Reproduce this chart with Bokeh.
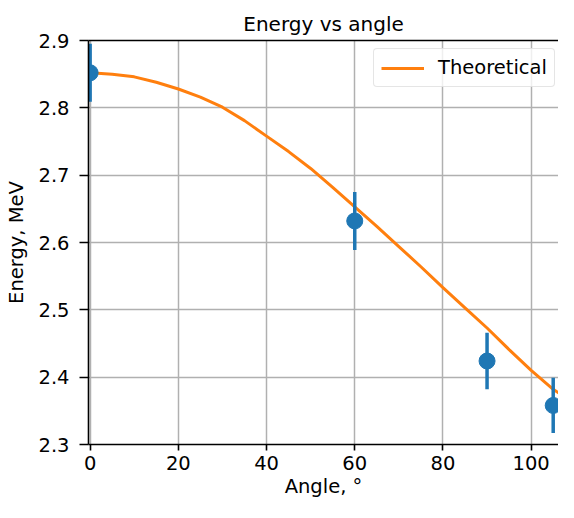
from bokeh.plotting import figure
from bokeh.models import Range1d, LinearAxis, FixedTicker, Legend, LegendItem, ColumnDataSource
from bokeh.embed import file_html
from bokeh.resources import INLINE

# measured data
angles = [0, 60, 90, 105]
energies = [2.852, 2.632, 2.424, 2.358]
errors = [0.043, 0.043, 0.042, 0.041]

theory_angles = [0, 5, 10, 15, 20, 25, 30, 35, 40, 45, 50, 55, 60, 65, 70, 75, 80, 85, 90, 95, 100, 105, 110]
theory_energy = [2.852, 2.850, 2.846, 2.838, 2.828, 2.816, 2.801, 2.781, 2.758, 2.735, 2.710, 2.682,
                 2.653, 2.624, 2.594, 2.564, 2.533, 2.503, 2.473, 2.441, 2.410, 2.382, 2.360]

x_ticks = [0, 20, 40, 60, 80, 100]
y_ticks = [2.3, 2.4, 2.5, 2.6, 2.7, 2.8, 2.9]

FONT = "DejaVu Sans"
BLUE = "#1f77b4"
ORANGE = "#ff7f0e"

p = figure(width=558, height=502, output_backend="svg", toolbar_location=None,
           x_range=Range1d(-0.37, 106.2), y_range=Range1d(2.3, 2.9),
           min_border_left=88, min_border_right=0, min_border_top=40, min_border_bottom=58)

p.title.text = "Energy vs angle"
p.title.text_font = FONT
p.title.text_font_size = "20px"
p.title.text_font_style = "normal"
p.title.align = "center"
p.title.text_color = "black"
p.title.standoff = 10

p.outline_line_color = None
p.background_fill_color = "white"

for g in (p.xgrid, p.ygrid):
    g.grid_line_color = "#b0b0b0"
    g.grid_line_width = 1.5
p.xgrid.ticker = FixedTicker(ticks=x_ticks)
p.ygrid.ticker = FixedTicker(ticks=y_ticks)

xa = p.xaxis[0]
xa.ticker = FixedTicker(ticks=x_ticks)
xa.axis_label = "Angle, °"
ya = p.yaxis[0]
ya.ticker = FixedTicker(ticks=y_ticks)
ya.axis_label = "Energy, MeV"
for ax in (xa, ya):
    ax.axis_line_color = "black"
    ax.axis_line_width = 1.6
    ax.major_tick_line_color = "black"
    ax.major_tick_line_width = 1.6
    ax.major_tick_in = 0
    ax.minor_tick_line_color = None
    ax.major_label_text_font = FONT
    ax.major_label_text_font_size = "19.5px"
    ax.major_label_text_color = "black"
    ax.axis_label_text_font = FONT
    ax.axis_label_text_font_size = "19.5px"
    ax.axis_label_text_font_style = "normal"
    ax.axis_label_text_color = "black"
xa.major_tick_out = 6
xa.major_label_standoff = 5
xa.axis_label_standoff = 2
ya.major_tick_out = 9
ya.major_label_standoff = 10
ya.axis_label_standoff = 7

top = LinearAxis(ticker=FixedTicker(ticks=[]), axis_line_color="black", axis_line_width=1.6,
                 major_tick_out=0, major_tick_in=0, minor_tick_out=0, minor_tick_in=0,
                 major_label_text_font_size="0px", major_label_standoff=0)
p.add_layout(top, "above")

line = p.line(theory_angles, theory_energy, line_width=3, color=ORANGE)

low = [e - d for e, d in zip(energies, errors)]
high = [e + d for e, d in zip(energies, errors)]
src = ColumnDataSource(dict(x=angles, y=energies, low=low, high=high))
p.segment(x0="x", y0="low", x1="x", y1="high", source=src, line_width=3.5, color=BLUE)
p.scatter("x", "y", source=src, size=16, color=BLUE)

legend = Legend(items=[LegendItem(label="Theoretical", renderers=[line])],
                location=(285, 357))
legend.padding = 7
legend.glyph_width = 43
legend.glyph_height = 20
legend.label_standoff = 14
legend.label_height = 20
legend.label_text_font = FONT
legend.label_text_font_size = "19.5px"
legend.label_text_color = "black"
legend.border_line_color = "#cccccc"
legend.border_line_width = 1.5
legend.border_radius = 4
legend.background_fill_alpha = 0.8
legend.margin = 0
p.add_layout(legend)

open("out.html", "w").write(file_html(p, INLINE))
